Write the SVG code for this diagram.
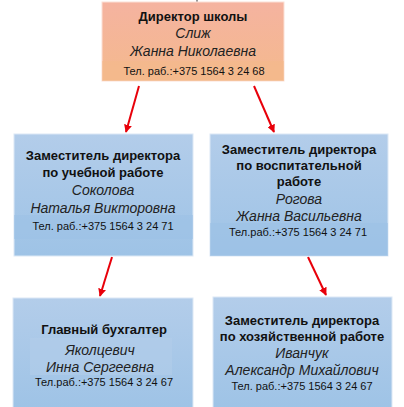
<svg xmlns="http://www.w3.org/2000/svg" width="404" height="407" viewBox="0 0 404 407">
<style>
.h{font-family:"Liberation Sans",Arial,sans-serif;font-weight:bold;font-size:13px;fill:#111;text-anchor:middle}
.n{font-family:"Liberation Sans",Arial,sans-serif;font-style:italic;font-size:14px;fill:#222;text-anchor:middle}
.p{font-family:"Liberation Sans",Arial,sans-serif;font-size:11px;fill:#111;text-anchor:middle}
.blue{fill:url(#gb);stroke:#dce8f5;stroke-width:1}
.band{fill:#9cc2e6;opacity:0.6}
.ar{stroke:#e8000a;stroke-width:2;fill:none;marker-end:url(#ah)}
</style>
<defs>
<linearGradient id="go" x1="0" y1="0" x2="0" y2="1">
<stop offset="0" stop-color="#f5b3a0"/>
<stop offset="1" stop-color="#f4b98d"/>
</linearGradient>
<linearGradient id="gb" x1="0" y1="0" x2="0" y2="1">
<stop offset="0" stop-color="#b3cdea"/>
<stop offset="1" stop-color="#9ec3e6"/>
</linearGradient>
<marker id="ah" viewBox="0 0 10 10" refX="9" refY="5" markerWidth="4" markerHeight="4" orient="auto" markerUnits="strokeWidth">
<path d="M0,0 L10,5 L0,10 z" fill="#e8000a"/>
</marker>
</defs>
<rect width="404" height="407" fill="#fff"/>
<g id="connectors">
<line x1="197" y1="0" x2="197" y2="2" stroke="#999" stroke-width="2"/>
<line class="ar" x1="139" y1="86" x2="126" y2="132"/>
<line class="ar" x1="254" y1="86" x2="274" y2="132"/>
<line class="ar" x1="112" y1="257" x2="100" y2="296"/>
<line class="ar" x1="308" y1="257" x2="326" y2="295"/>
</g>
<g id="director">
<rect x="102" y="2" width="182" height="79" fill="url(#go)" stroke="#fbe0d5" stroke-width="1"/>
<rect x="102" y="61" width="182" height="20" fill="#f4b98a" opacity="0.5"/>
<text class="h" x="193" y="21">Директор школы</text>
<text class="n" x="193" y="38">Слиж</text>
<text class="n" x="193" y="56">Жанна Николаевна</text>
<text class="p" x="194" y="75">Тел. раб.:+375 1564 3 24 68</text>
</g>
<g id="deputy-study">
<rect class="blue" x="14" y="134" width="179" height="122"/>
<rect class="band" x="14" y="215" width="179" height="24"/>
<text class="h" x="103" y="160">Заместитель директора</text>
<text class="h" x="103" y="177">по учебной работе</text>
<text class="n" x="103" y="195">Соколова</text>
<text class="n" x="103" y="213">Наталья Викторовна</text>
<text class="p" x="103" y="230">Тел. раб.:+375 1564 3 24 71</text>
</g>
<g id="deputy-upbringing">
<rect class="blue" x="210" y="134" width="178" height="122"/>
<rect class="band" x="210" y="223" width="178" height="33"/>
<text class="h" x="299" y="154">Заместитель директора</text>
<text class="h" x="299" y="170">по воспитательной</text>
<text class="h" x="299" y="186">работе</text>
<text class="n" x="299" y="204">Рогова</text>
<text class="n" x="299" y="221">Жанна Васильевна</text>
<text class="p" x="298" y="236">Тел.раб.:+375 1564 3 24 71</text>
</g>
<g id="accountant">
<rect class="blue" x="13" y="298" width="180" height="112"/>
<rect x="30" y="338" width="142" height="37" fill="#b3cdea" opacity="0.6"/>
<text class="h" x="104" y="334">Главный бухгалтер</text>
<text class="n" x="100" y="355">Яколцевич</text>
<text class="n" x="100" y="372">Инна Сергеевна</text>
<text class="p" x="104" y="386">Тел.раб.:+375 1564 3 24 67</text>
</g>
<g id="deputy-household">
<rect class="blue" x="213" y="297" width="179" height="113"/>
<text class="h" x="302" y="325">Заместитель директора</text>
<text class="h" x="302" y="341">по хозяйственной работе</text>
<text class="n" x="302" y="358">Иванчук</text>
<text class="n" x="302" y="375">Александр Михайлович</text>
<text class="p" x="302" y="390">Тел. раб.:+375 1564 3 24 67</text>
</g>
</svg>
